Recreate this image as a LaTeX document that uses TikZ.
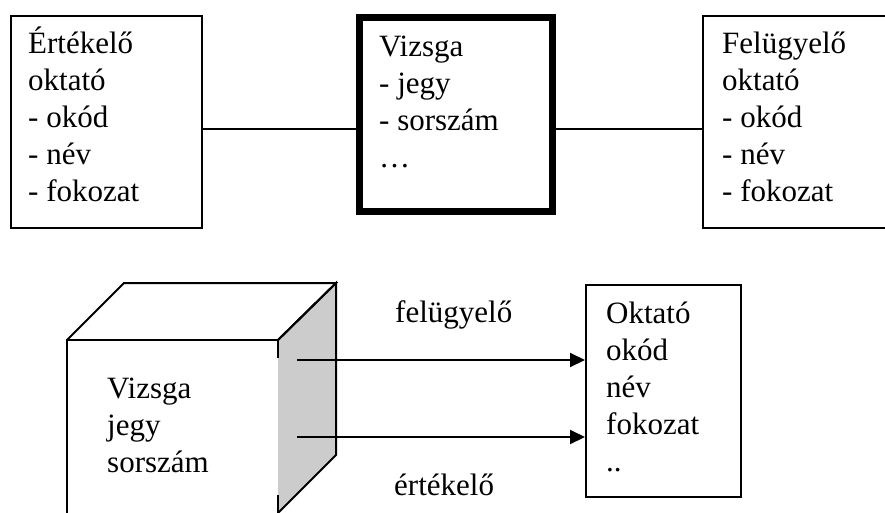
\documentclass[tikz,border=0pt]{standalone}
\usepackage{fontspec}
\setmainfont{Liberation Serif}
\usetikzlibrary{arrows.meta}
\definecolor{sideface}{RGB}{204,204,204}
\begin{document}
\begin{tikzpicture}[x=1pt,y=-1pt,
  thin line/.style={line width=2pt},
  entity/.style={draw,thin line,rectangle,inner sep=0pt,anchor=north west},
  heavy/.style={draw,line width=7pt,rectangle,inner sep=0pt,anchor=north west},
  txt/.style={anchor=base west,inner sep=0pt,font=\fontsize{31}{37}\selectfont},
  rel/.style={thin line,-{Triangle[length=15pt,width=14pt]}}]
\useasboundingbox (0,0) rectangle (885,512);
\clip (0,0) rectangle (885,512);

% upper diagram: two teacher roles around the exam entity
\node[entity,minimum width=191pt,minimum height=212pt] (ert) at (10,14.5) {};
\node[heavy,minimum width=193pt,minimum height=194pt] (vz) at (355.5,13.5) {};
\node[entity,minimum width=190pt,minimum height=212pt] (fel) at (701.5,14.5) {};

\node[txt] (ertT) at (28,53) {\begin{tabular}[t]{@{}l@{}}Értékelő\\oktató\\- okód\\- név\\- fokozat\end{tabular}};
\node[txt] (vzT) at (379,56) {\begin{tabular}[t]{@{}l@{}}Vizsga\\- jegy\\- sorszám\\…\end{tabular}};
\node[txt] (felT) at (722,53) {\begin{tabular}[t]{@{}l@{}}Felügyelő\\oktató\\- okód\\- név\\- fokozat\end{tabular}};

\coordinate (linkrow) at (0,129.3);
\draw[thin line] (ert.east |- linkrow) -- (vz.west |- linkrow);
\draw[thin line] (vz.east |- linkrow) -- (fel.west |- linkrow);

% lower diagram: the exam as a cube, pointing to the teacher entity
\fill[sideface] (278,340) -- (336,283) -- (336,455) -- (278,512) -- cycle;
\draw[thin line,line join=miter] (67,515) -- (67,340) -- (278,340);
\draw[thin line,line join=miter] (67,340) -- (124,283) -- (336,283) -- (278,340);
\draw[thin line,line join=miter] (278,340) -- (336,283) -- (336,455) -- (278,513);
\draw[thin line] (278,340) -- (278,358);
\draw[thin line] (278,495) -- (278,515);

\node[txt] (cubeT) at (107,398) {\begin{tabular}[t]{@{}l@{}}Vizsga\\jegy\\sorszám\end{tabular}};

\node[entity,minimum width=155pt,minimum height=212.5pt] (okt) at (585,283.5) {};
\node[txt] (oktT) at (606,323) {\begin{tabular}[t]{@{}l@{}}Oktató\\okód\\név\\fokozat\\..\end{tabular}};

\coordinate (fstart) at (297,360);
\coordinate (estart) at (297,437);
\draw[rel] (fstart) -- (okt.west |- fstart);
\draw[rel] (estart) -- (okt.west |- estart);

\node[txt] (felL) at (395,322) {felügyelő};
\node[txt] (ertL) at (394,495) {értékelő};
\end{tikzpicture}
\end{document}
